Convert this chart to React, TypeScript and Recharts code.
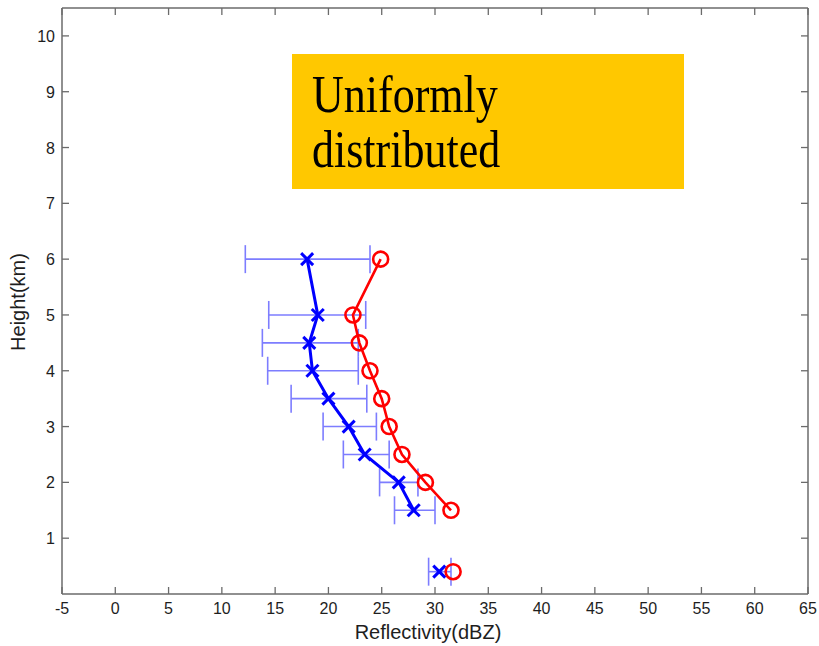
import React from 'react';
import { ScatterChart, Scatter, XAxis, YAxis, ErrorBar } from 'recharts';

// Profile heights (km)
const heights = [6, 5, 4.5, 4, 3.5, 3, 2.5, 2, 1.5];
// Blue profile: mean reflectivity with error-bar bounds (dBZ)
const blueMean = [18.0, 19.0, 18.2, 18.5, 20.0, 21.9, 23.4, 26.6, 28.0];
const blueLow = [12.2, 14.4, 13.8, 14.3, 16.5, 19.5, 21.4, 24.8, 26.2];
const blueHigh = [23.9, 23.5, 22.8, 22.8, 23.6, 24.5, 25.7, 28.4, 30.0];
// Red profile (dBZ)
const redMean = [24.9, 22.3, 22.9, 23.9, 25.0, 25.7, 26.9, 29.1, 31.5];
// Near-surface point
const surfaceHeight = [0.4];
const surfaceBlue = [30.4];
const surfaceBlueLow = [29.4];
const surfaceBlueHigh = [31.5];
const surfaceRed = [31.7];

const xTicks = [-5, 0, 5, 10, 15, 20, 25, 30, 35, 40, 45, 50, 55, 60, 65];
const yTicks = [1, 2, 3, 4, 5, 6, 7, 8, 9, 10];

const blueData = heights.map((h, i) => ({ h, z: blueMean[i], err: [blueMean[i] - blueLow[i], blueHigh[i] - blueMean[i]] }));
const redData = heights.map((h, i) => ({ h, z: redMean[i] }));
const blueSurface = surfaceHeight.map((h, i) => ({ h, z: surfaceBlue[i], err: [surfaceBlue[i] - surfaceBlueLow[i], surfaceBlueHigh[i] - surfaceBlue[i]] }));
const redSurface = surfaceHeight.map((h, i) => ({ h, z: surfaceRed[i] }));

const AX = '#6b6b6b';
const TXT = '#1e1e1e';
const FONT = 'Liberation Sans, Arial, sans-serif';
const TL = 7;

const BottomTick = (p: any) => (
  <g>
    <line x1={p.x} x2={p.x} y1={p.y} y2={p.y - TL} stroke={AX} strokeWidth={1.3} />
    <text x={p.x} y={p.y + 20} textAnchor="middle" fontSize={16} fontFamily={FONT} fill={TXT}>{p.payload.value}</text>
  </g>
);
const TopTick = (p: any) => (
  <line x1={p.x} x2={p.x} y1={p.y} y2={p.y + TL} stroke={AX} strokeWidth={1.3} />
);
const LeftTick = (p: any) => (
  <g>
    <line x1={p.x} x2={p.x + TL} y1={p.y} y2={p.y} stroke={AX} strokeWidth={1.3} />
    <text x={p.x - 7} y={p.y + 6} textAnchor="end" fontSize={16} fontFamily={FONT} fill={TXT}>{p.payload.value}</text>
  </g>
);
const RightTick = (p: any) => (
  <line x1={p.x} x2={p.x - TL} y1={p.y} y2={p.y} stroke={AX} strokeWidth={1.3} />
);

const XShape = (p: any) => {
  const { cx, cy } = p;
  const s = 6;
  return (
    <g stroke="#0000ff" strokeWidth={3}>
      <line x1={cx - s} y1={cy - s} x2={cx + s} y2={cy + s} />
      <line x1={cx - s} y1={cy + s} x2={cx + s} y2={cy - s} />
    </g>
  );
};
const OShape = (p: any) => (
  <circle cx={p.cx} cy={p.cy} r={7.5} fill="none" stroke="#ff0000" strokeWidth={2.6} />
);

export default function App() {
  return (
    <div style={{ position: 'absolute', left: 0, top: 0, width: 819, height: 646, background: '#fff' }}>
      <ScatterChart width={819} height={646} margin={{ top: 0, right: 0, bottom: 0, left: 0 }}>
        <XAxis xAxisId={0} type="number" dataKey="z" domain={[-5, 65]} ticks={xTicks} height={52}
          tickSize={0} tickMargin={0} tickLine={false} tick={<BottomTick />}
          axisLine={{ stroke: AX, strokeWidth: 1.5 }} allowDataOverflow interval={0} />
        <XAxis xAxisId="top" orientation="top" type="number" dataKey="z" domain={[-5, 65]} ticks={xTicks} height={8}
          tickSize={0} tickMargin={0} tickLine={false} tick={<TopTick />}
          axisLine={{ stroke: AX, strokeWidth: 1.5 }} allowDataOverflow interval={0} />
        <YAxis yAxisId={0} type="number" dataKey="h" domain={[0, 10.5]} ticks={yTicks} width={62}
          tickSize={0} tickMargin={0} tickLine={false} tick={<LeftTick />}
          axisLine={{ stroke: AX, strokeWidth: 1.5 }} allowDataOverflow interval={0} />
        <YAxis yAxisId="right" orientation="right" type="number" dataKey="h" domain={[0, 10.5]} ticks={yTicks} width={11}
          tickSize={0} tickMargin={0} tickLine={false} tick={<RightTick />}
          axisLine={{ stroke: AX, strokeWidth: 1.5 }} allowDataOverflow interval={0} />
        <Scatter data={blueData} dataKey="z" line={{ stroke: '#0000ff', strokeWidth: 3 }} shape={<XShape />} isAnimationActive={false}>
          <ErrorBar dataKey="err" direction="x" width={14} stroke="#7d7dff" strokeWidth={1.6} />
        </Scatter>
        <Scatter data={blueSurface} dataKey="z" shape={<XShape />} isAnimationActive={false}>
          <ErrorBar dataKey="err" direction="x" width={14} stroke="#7d7dff" strokeWidth={1.6} />
        </Scatter>
        <Scatter data={redData} dataKey="z" line={{ stroke: '#ff0000', strokeWidth: 2.6 }} shape={<OShape />} isAnimationActive={false} />
        <Scatter data={redSurface} dataKey="z" shape={<OShape />} isAnimationActive={false} />
      </ScatterChart>
      <svg width={819} height={646} style={{ position: 'absolute', left: 0, top: 0, pointerEvents: 'none' }}>
        <text x={428} y={639} textAnchor="middle" fontSize={20} fontFamily={FONT} fill={TXT}>Reflectivity(dBZ)</text>
        <text x={25} y={302} textAnchor="middle" fontSize={20} fontFamily={FONT} fill={TXT} transform="rotate(-90 25 302)">Height(km)</text>
      </svg>
      <div style={{ position: 'absolute', left: 292, top: 54, width: 392, height: 135, background: '#ffc800', overflow: 'hidden' }}>
        <div style={{ position: 'absolute', left: 20, top: 13, fontFamily: 'Liberation Serif, Times New Roman, serif', fontSize: 44, lineHeight: '45px', color: '#000', transform: 'scaleY(1.22)', transformOrigin: 'top left', whiteSpace: 'nowrap' }}>
          Uniformly<br />distributed
        </div>
      </div>
    </div>
  );
}
